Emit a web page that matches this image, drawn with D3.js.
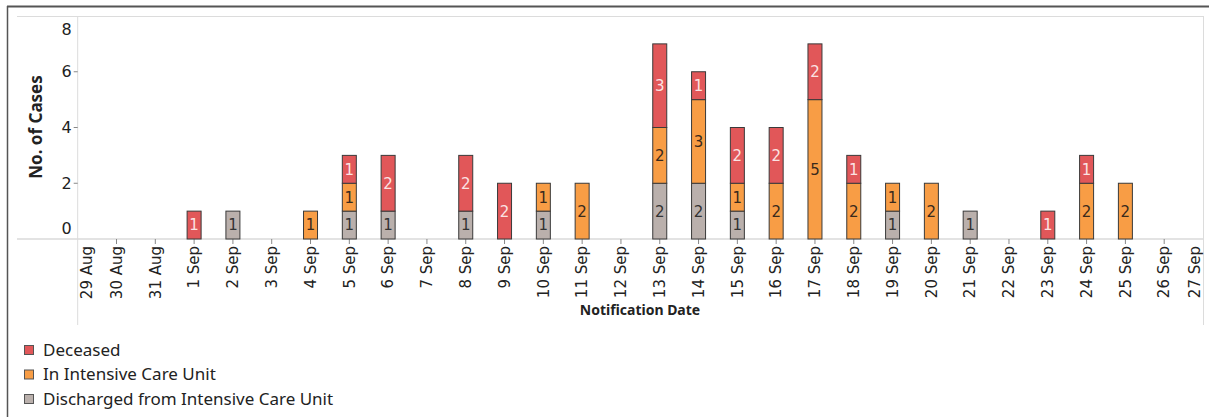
<!DOCTYPE html>
<html>
 <head>
  <meta charset="utf-8">
  <title>ICU cases by notification date</title>
  <script src="https://cdnjs.cloudflare.com/ajax/libs/d3/7.8.5/d3.min.js"></script>
  <style>
    body { margin: 0; background: #fff; }
    svg { display: block; }
  </style>
 </head>
 <body>
  <div id="chart"></div>
  <script>
    // notification dates with at least one case
    var dates = ["2020-09-01","2020-09-02","2020-09-04","2020-09-05","2020-09-06",
                 "2020-09-08","2020-09-09","2020-09-10","2020-09-11","2020-09-13",
                 "2020-09-14","2020-09-15","2020-09-16","2020-09-17","2020-09-18",
                 "2020-09-19","2020-09-20","2020-09-21","2020-09-23","2020-09-24",
                 "2020-09-25"];
    var discharged = [0,1,0,1,1, 1,0,1,0,2, 2,1,0,0,0, 1,0,1,0,0, 0];
    var icu        = [0,0,1,1,0, 0,0,1,2,2, 3,1,2,5,2, 1,2,0,0,2, 2];
    var deceased   = [1,0,0,1,2, 2,2,0,0,3, 1,2,2,2,1, 0,0,0,1,1, 0];
    var yTicks = [0, 2, 4, 6, 8];
    var seriesNames = ["Discharged from Intensive Care Unit", "In Intensive Care Unit", "Deceased"];
    var legendOrder = ["Deceased", "In Intensive Care Unit", "Discharged from Intensive Care Unit"];

    var colors = {
      "Deceased": "#e15759",
      "In Intensive Care Unit": "#f89d45",
      "Discharged from Intensive Care Unit": "#bab0ac"
    };
    var labelColors = {
      "Deceased": "#fbe3e3",
      "In Intensive Care Unit": "#3a2a1c",
      "Discharged from Intensive Care Unit": "#333333"
    };

    var width = 1209, height = 417;
    var plotL = 77.7, plotR = 1203, plotT = 16, plotB = 239;

    var svg = d3.select("#chart").append("svg")
                .attr("width", width).attr("height", height);

    var parse = d3.utcParse("%Y-%m-%d");
    var x = d3.scaleUtc()
              .domain([parse("2020-08-29"), parse("2020-09-27")])
              .range([plotL, plotR]);
    var y = d3.scaleLinear().domain([0, 8]).range([plotB, plotT]);

    // outer frame
    svg.append("line").attr("x1", 7).attr("x2", width).attr("y1", 6.5).attr("y2", 6.5)
       .attr("stroke", "#555").attr("stroke-width", 2);
    svg.append("line").attr("x1", 7.5).attr("x2", 7.5).attr("y1", 6).attr("y2", height)
       .attr("stroke", "#555").attr("stroke-width", 1.5);

    // plot lines
    var grid = svg.append("g").attr("stroke", "#dcdcdc");
    grid.append("line").attr("x1", 17).attr("x2", plotR).attr("y1", plotT + 0.5).attr("y2", plotT + 0.5);
    grid.append("line").attr("x1", 17).attr("x2", plotR).attr("y1", plotB).attr("y2", plotB)
        .attr("stroke-width", 2).attr("stroke", "#e3e3e3");
    grid.append("line").attr("x1", plotL).attr("x2", plotL).attr("y1", plotT).attr("y2", 325);
    grid.append("line").attr("x1", plotR + 0.5).attr("x2", plotR + 0.5).attr("y1", plotT).attr("y2", 325);

    // y axis
    var yAxis = svg.append("g").attr("class", "y-axis");
    yAxis.selectAll("line").data(yTicks.filter(function(d) { return d > 0 && d < 8; }))
      .enter().append("line")
      .attr("x1", plotL - 4).attr("x2", plotL)
      .attr("y1", function(d) { return y(d); }).attr("y2", function(d) { return y(d); })
      .attr("stroke", "#888");
    yAxis.selectAll("text").data(yTicks).enter().append("text")
      .attr("x", plotL - 6)
      .attr("y", function(d) {
        var p = y(d);
        if (d === 8) p += 13;
        if (d === 0) p -= 11;
        return p;
      })
      .attr("dy", "0.35em")
      .attr("text-anchor", "end")
      .attr("font-family", "DejaVu Sans")
      .attr("font-size", 16)
      .attr("fill", "#222")
      .text(function(d) { return d; });

    svg.append("text")
      .attr("transform", "translate(42,127) rotate(-90)")
      .attr("text-anchor", "middle")
      .attr("font-family", "Noto Sans")
      .attr("font-weight", "bold")
      .attr("font-size", 17)
      .attr("fill", "#222")
      .text("No. of Cases");

    // x axis
    var days = d3.utcDay.range(parse("2020-08-29"), d3.utcDay.offset(parse("2020-09-27"), 1));
    var fmt = d3.utcFormat("%-d %b");
    var xAxis = svg.append("g").attr("class", "x-axis");
    xAxis.selectAll("line").data(days.slice(1, -1)).enter().append("line")
      .attr("x1", function(d) { return x(d); }).attr("x2", function(d) { return x(d); })
      .attr("y1", plotB).attr("y2", plotB + 5)
      .attr("stroke", "#888");
    xAxis.selectAll("text").data(days).enter().append("text")
      .attr("transform", function(d, i) {
        var px = x(d);
        if (i === 0) px += 9;
        if (i === days.length - 1) px -= 8;
        return "translate(" + px + "," + (plotB + 7) + ") rotate(-90)";
      })
      .attr("dy", "0.35em")
      .attr("text-anchor", "end")
      .attr("font-family", "DejaVu Sans")
      .attr("font-size", 15)
      .attr("fill", "#222")
      .text(function(d) { return fmt(d); });

    svg.append("text")
      .attr("x", 640).attr("y", 315)
      .attr("text-anchor", "middle")
      .attr("font-family", "Noto Sans")
      .attr("font-weight", "bold")
      .attr("font-size", 14)
      .attr("fill", "#222")
      .text("Notification Date");

    // stacked bars
    var rows = dates.map(function(d, i) {
      var r = { date: parse(d) };
      r[seriesNames[0]] = discharged[i];
      r[seriesNames[1]] = icu[i];
      r[seriesNames[2]] = deceased[i];
      return r;
    });
    var stack = d3.stack().keys(seriesNames)(rows);
    var barW = 14;

    function segs(s) {
      return s.filter(function(p) { return p[1] > p[0]; })
              .map(function(p) { p.key = s.key; return p; });
    }

    var layers = svg.append("g").selectAll("g").data(stack).enter().append("g");
    layers.selectAll("rect").data(segs).enter().append("rect")
      .attr("x", function(p) { return x(p.data.date) - barW / 2; })
      .attr("y", function(p) { return y(p[1]); })
      .attr("width", barW)
      .attr("height", function(p) { return y(p[0]) - y(p[1]); })
      .attr("fill", function(p) { return colors[p.key]; })
      .attr("stroke", "#3a3a3a")
      .attr("stroke-width", 1);

    layers.selectAll("text").data(segs).enter().append("text")
      .attr("x", function(p) { return x(p.data.date); })
      .attr("y", function(p) { return (y(p[0]) + y(p[1])) / 2; })
      .attr("dy", "0.36em")
      .attr("text-anchor", "middle")
      .attr("font-family", "DejaVu Sans")
      .attr("font-size", 15)
      .attr("fill", function(p) { return labelColors[p.key]; })
      .text(function(p) { return p[1] - p[0]; });

    // legend
    var legend = svg.append("g").selectAll("g").data(legendOrder).enter().append("g")
      .attr("transform", function(d, i) { return "translate(24," + (350 + i * 24.5) + ")"; });
    legend.append("rect")
      .attr("x", 0.5).attr("y", -4.5).attr("width", 9).attr("height", 9)
      .attr("fill", function(d) { return colors[d]; })
      .attr("stroke", "#555");
    legend.append("text")
      .attr("x", 19).attr("dy", "0.35em")
      .attr("font-family", "Noto Sans")
      .attr("font-size", 17)
      .attr("fill", "#222")
      .text(function(d) { return d; });
  </script>
 </body>
</html>
